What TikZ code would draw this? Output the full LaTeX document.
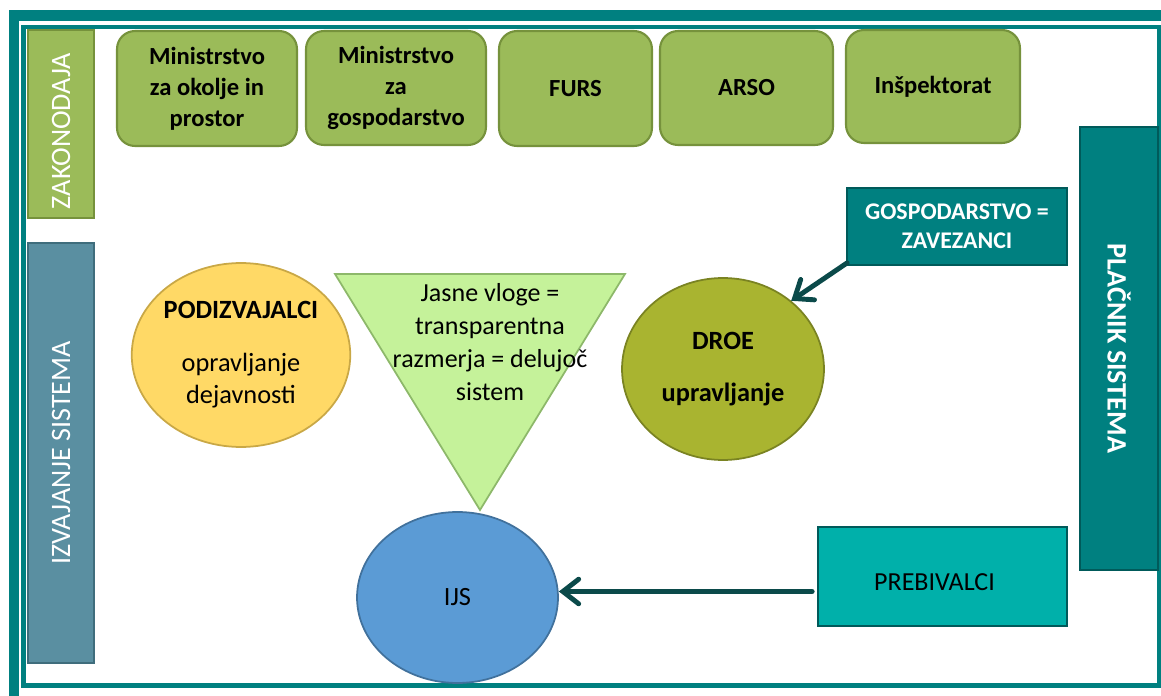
\documentclass[tikz,border=0pt]{standalone}
\usepackage{fontspec}
\setmainfont{Carlito}
\usetikzlibrary{arrows.meta,shapes.geometric}

\definecolor{frameteal}{HTML}{008080}
\definecolor{boxgreen}{HTML}{9BBB59}
\definecolor{boxgreenedge}{HTML}{76923C}
\definecolor{sidesteel}{HTML}{5A8FA1}
\definecolor{sidesteeledge}{HTML}{3F6D7C}
\definecolor{tealedge}{HTML}{005A5A}
\definecolor{prebteal}{HTML}{00B0AA}
\definecolor{arrowteal}{HTML}{0B4A4A}
\definecolor{podyellow}{HTML}{FFD966}
\definecolor{podedge}{HTML}{C9A846}
\definecolor{trigreen}{HTML}{C5F29A}
\definecolor{triedge}{HTML}{8DB86A}
\definecolor{droeolive}{HTML}{A9B430}
\definecolor{droeedge}{HTML}{7A8322}
\definecolor{ijsblue}{HTML}{5B9BD5}
\definecolor{ijsedge}{HTML}{41719C}

\tikzset{
  minbox/.style={rounded corners=0.36cm, fill=boxgreen, draw=boxgreenedge, line width=1.2pt,
    inner sep=0pt, align=center, font=\fontsize{14}{17.6}\selectfont\bfseries},
  sidebar/.style={inner sep=0pt, text=white, line width=1.2pt, font=\fontsize{16}{18}\selectfont},
  roleellipse/.style={ellipse, inner sep=0pt, align=center, line width=1pt,
    font=\fontsize{15}{18.7}\selectfont},
  flowarrow/.style={draw=arrowteal, line width=2.8pt, line cap=round,
    -{Straight Barb[length=9pt,width=14pt,line cap=round]}},
}

\begin{document}
\begin{tikzpicture}[x=0.02cm,y=-0.02cm]
  \useasboundingbox (0,0) rectangle (1161,696);
  % Draw the frame
  \draw[frameteal, line width=5.7pt] (14,15.5) rectangle (1170,702);
  \draw[frameteal, line width=2.3pt] (23.5,27) rectangle (1159,685.5);

  % Draw the side bars
  \node[sidebar, fill=boxgreen, draw=boxgreenedge, rotate=90,
    minimum width=3.76cm, minimum height=1.32cm] (zakon) at (61,124) {};
  \node[text=white, font=\fontsize{16}{18}\selectfont, rotate=90] (zakontext) at (61,131) {ZAKONODAJA};
  \node[sidebar, fill=sidesteel, draw=sidesteeledge, rotate=90,
    minimum width=8.4cm, minimum height=1.32cm] (izvaj) at (61,453) {IZVAJANJE SISTEMA};
  \node[sidebar, fill=frameteal, draw=tealedge, rotate=-90, font=\fontsize{16}{18}\selectfont\bfseries,
    minimum width=8.86cm, minimum height=1.56cm] (placnik) at (1119,348.5) {PLAČNIK  SISTEMA};

  % Draw the institutions
  \node[minbox, minimum width=3.6cm, minimum height=2.3cm] (mop) at (207,88.5) {Ministrstvo\\za okolje in\\prostor};
  \node[minbox, minimum width=3.6cm, minimum height=2.28cm] (mgp) at (396,88) {Ministrstvo\\za\\gospodarstvo};
  \node[minbox, minimum width=3.06cm, minimum height=2.3cm] (furs) at (575.5,88.5) {FURS};
  \node[minbox, minimum width=3.46cm, minimum height=2.28cm] (arso) at (746.5,88) {ARSO};
  \node[minbox, minimum width=3.48cm, minimum height=2.26cm] (insp) at (933,86.5) {Inšpektorat};

  % Draw the payers
  \node[inner sep=0pt, fill=frameteal, draw=tealedge, line width=1pt, text=white, align=center,
    font=\fontsize{13.6}{16.4}\selectfont\bfseries,
    minimum width=4.4cm, minimum height=1.54cm] (gosp) at (957,226.5) {GOSPODARSTVO =\\ZAVEZANCI};
  \node[inner sep=0pt, fill=prebteal, draw=tealedge, line width=1pt,
    minimum width=4.98cm, minimum height=1.98cm] (preb) at (942.5,576.5) {};
  \node[font=\fontsize{14.8}{18}\selectfont] (prebtext) at (934.5,582) {PREBIVALCI};

  % Draw the roles
  \node[roleellipse, fill=podyellow, draw=podedge, minimum width=4.26cm, minimum height=3.68cm]
    (pod) at (241,355) {{\bfseries PODIZVAJALCI}\\[11pt]opravljanje\\dejavnosti};
  \node[roleellipse, fill=droeolive, draw=droeedge, font=\fontsize{15}{18.7}\selectfont\bfseries,
    minimum width=4.04cm, minimum height=3.64cm] (droe) at (723,369) {DROE\\[11pt]upravljanje};
  \node[roleellipse, fill=ijsblue, draw=ijsedge, minimum width=4.02cm, minimum height=3.42cm]
    (ijs) at (457.5,597.5) {IJS};

  % Draw the triangle
  \filldraw[fill=trigreen, draw=triedge, line width=1pt] (335,274) -- (625,274) -- (480,510) -- cycle;
  \node[align=center, font=\fontsize{14.8}{18.7}\selectfont] (vloge) at (490,342)
    {Jasne vloge =\\transparentna\\razmerja = delujoč\\sistem};

  % Draw the arrows
  \draw[flowarrow] ([shift={(1,-3)}]gosp.south west) -- (droe.45);
  \coordinate (prebout) at ([shift={(-5,15)}]preb.west);
  \draw[flowarrow] (prebout) -- (prebout -| ijs.east);
\end{tikzpicture}
\end{document}
